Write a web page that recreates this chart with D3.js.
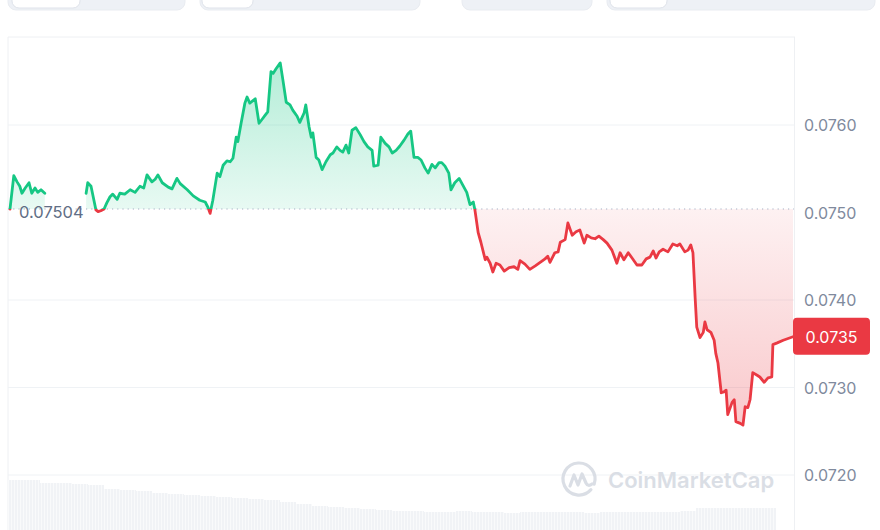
<!DOCTYPE html>
<html lang="en">
    <head>
        <meta charset="utf-8">
        <title>Price chart</title>
        <script type="text/javascript" src="https://cdn.jsdelivr.net/npm/d3@7"></script>
        <style type="text/css">
            body { margin: 0; background: #fff; }
            svg { display: block; font-family: Inter, "Noto Sans", sans-serif; }
        </style>
    </head>
    <body>
        <script type="text/javascript">

            //Width and height
            var w = 880;
            var h = 530;

            // minutes since start of the 24h window (null price = no data)
            var minutes = [0, 7, 13, 18, 22, 28, 35, 40, 46, 51, 57, 64, 100,
                140, 143, 149, 153, 158, 162, 167, 173, 178, 184, 189, 197, 202, 211, 221, 230, 239, 246,
                252, 261, 267, 272, 280, 291, 298, 307, 313, 326, 337, 349, 359, 364, 368, 373, 381, 386,
                392, 399, 405, 410, 416, 419, 425, 432, 436, 441, 451, 458, 463, 469, 474, 480, 484, 489,
                497, 502, 508, 515, 520, 528, 533, 541, 544, 550, 554, 557, 563, 568, 574, 581, 589, 594,
                601, 607, 612, 618, 623, 629, 636, 644, 651, 658, 666, 669, 677, 682, 690, 697, 703, 710,
                717, 725, 732, 737, 743, 750, 756, 763, 769, 776, 782, 789, 794, 800, 807, 811, 818, 826,
                833, 840, 846, 852, 855, 861, 866, 874, 877, 883, 888, 894, 901, 909, 918, 927, 934, 938,
                947, 956, 966, 975, 984, 989, 993, 1002, 1008, 1012, 1021, 1026, 1034, 1041, 1048, 1056,
                1061, 1069, 1076, 1083, 1091, 1098, 1107, 1116, 1122, 1129, 1137, 1144, 1153, 1162, 1170,
                1177, 1183, 1188, 1194, 1201, 1210, 1219, 1227, 1232, 1241, 1247, 1252, 1256, 1260, 1263,
                1269, 1275, 1278, 1282, 1289, 1295, 1298, 1302, 1308, 1313, 1317, 1320, 1328, 1332, 1335,
                1343, 1348, 1352, 1357, 1361, 1366, 1374, 1379, 1387, 1394, 1401, 1403, 1411, 1422, 1440];

            var prices = [0.07504, 0.07542, 0.07535, 0.07530, 0.07522, 0.07528, 0.07534, 0.07522, 0.07528, 0.07523, 0.07526, 0.07522, null,
                0.07522, 0.07534, 0.07530, 0.07518, 0.07503, 0.07501, 0.07502, 0.07504, 0.07511, 0.07518, 0.07521, 0.07515, 0.07522, 0.07521, 0.07526, 0.07523, 0.07530, 0.07528,
                0.07543, 0.07535, 0.07538, 0.07543, 0.07534, 0.07529, 0.07527, 0.07539, 0.07533, 0.07526, 0.07519, 0.07514, 0.07512, 0.07506, 0.07499, 0.07514, 0.07545, 0.07541,
                0.07554, 0.07559, 0.07558, 0.07562, 0.07586, 0.07581, 0.07602, 0.07625, 0.07632, 0.07625, 0.07630, 0.07602, 0.07606, 0.07611, 0.07615, 0.07661, 0.07659, 0.07664,
                0.07671, 0.07651, 0.07626, 0.07623, 0.07617, 0.07610, 0.07603, 0.07614, 0.07623, 0.07598, 0.07586, 0.07591, 0.07563, 0.07560, 0.07549, 0.07558, 0.07566, 0.07568,
                0.07575, 0.07571, 0.07569, 0.07577, 0.07568, 0.07594, 0.07597, 0.07589, 0.07581, 0.07575, 0.07571, 0.07553, 0.07554, 0.07586, 0.07579, 0.07575, 0.07568, 0.07571,
                0.07576, 0.07583, 0.07590, 0.07593, 0.07563, 0.07563, 0.07560, 0.07551, 0.07545, 0.07555, 0.07551, 0.07557, 0.07557, 0.07553, 0.07545, 0.07526, 0.07534, 0.07539,
                0.07531, 0.07523, 0.07509, 0.07512, 0.07503, 0.07477, 0.07466, 0.07446, 0.07449, 0.07442, 0.07432, 0.07442, 0.07440, 0.07433, 0.07437, 0.07438, 0.07435, 0.07445,
                0.07441, 0.07435, 0.07439, 0.07443, 0.07447, 0.07450, 0.07443, 0.07454, 0.07455, 0.07466, 0.07469, 0.07488, 0.07474, 0.07478, 0.07480, 0.07465,
                0.07474, 0.07471, 0.07470, 0.07473, 0.07469, 0.07465, 0.07457, 0.07442, 0.07454, 0.07446, 0.07454, 0.07448, 0.07440, 0.07440, 0.07447,
                0.07449, 0.07456, 0.07448, 0.07455, 0.07458, 0.07455, 0.07464, 0.07462, 0.07464, 0.07455, 0.07457, 0.07463, 0.07454, 0.07403, 0.07369,
                0.07357, 0.07363, 0.07375, 0.07366, 0.07363, 0.07354, 0.07339, 0.07328, 0.07294, 0.07295, 0.07297, 0.07269, 0.07283, 0.07286, 0.07261,
                0.07259, 0.07257, 0.07278, 0.07277, 0.07286, 0.07317, 0.07314, 0.07312, 0.07306, 0.07311, 0.07312, 0.07349, 0.07351, 0.07354, 0.07358];

            var openPrice = 0.07504;
            var yTicks = [0.0720, 0.0730, 0.0740, 0.0750, 0.0760];

            // volume, one bar per 30 minutes
            var volumes = [50, 50, 47, 47, 46, 45, 41, 40, 39, 37, 36, 35, 34, 33, 32, 31,
                30, 28, 26, 24, 23, 22, 21, 20, 19, 19, 18, 18, 19, 18, 18, 17,
                18, 18, 18, 18, 17, 18, 18, 18, 18, 18, 19, 22, 22, 22, 22, 22];

            var data = minutes.map(function(m, i) { return { t: m, p: prices[i] }; });

            var green = "#16c784";
            var red = "#ea3943";

            var x = d3.scaleLinear().domain([0, 1440]).range([10, 793]);
            var y = d3.scaleLinear().domain([0.0720, 0.0760]).range([475, 125]);
            var vx = d3.scaleBand().domain(d3.range(volumes.length)).range([8, 776]);
            var vy = d3.scaleLinear().domain([0, 50]).range([530, 480]);

            var svg = d3.select("body")
                        .append("svg")
                        .attr("width", w)
                        .attr("height", h);

            var defs = svg.append("defs");

            var gg = defs.append("linearGradient").attr("id", "gUp")
                .attr("gradientUnits", "userSpaceOnUse")
                .attr("x1", 0).attr("x2", 0).attr("y1", y(0.0767)).attr("y2", y(openPrice));
            gg.append("stop").attr("offset", 0).attr("stop-color", green).attr("stop-opacity", 0.32);
            gg.append("stop").attr("offset", 1).attr("stop-color", green).attr("stop-opacity", 0.1);

            var rg = defs.append("linearGradient").attr("id", "gDown")
                .attr("gradientUnits", "userSpaceOnUse")
                .attr("x1", 0).attr("x2", 0).attr("y1", y(openPrice)).attr("y2", y(0.0725));
            rg.append("stop").attr("offset", 0).attr("stop-color", red).attr("stop-opacity", 0.07);
            rg.append("stop").attr("offset", 1).attr("stop-color", red).attr("stop-opacity", 0.28);

            defs.append("clipPath").attr("id", "cUp")
                .append("rect").attr("x", 0).attr("y", 0).attr("width", w).attr("height", y(openPrice));
            defs.append("clipPath").attr("id", "cDown")
                .append("rect").attr("x", 0).attr("y", y(openPrice)).attr("width", w).attr("height", h);

            var stripes = defs.append("pattern").attr("id", "stripes")
                .attr("patternUnits", "userSpaceOnUse").attr("width", 3).attr("height", 10);
            stripes.append("rect").attr("width", 2).attr("height", 10).attr("fill", "#f1f3f6");
            stripes.append("rect").attr("x", 2).attr("width", 1).attr("height", 10).attr("fill", "#f9fafb");

            //Tabs along the top (cut off)
            var tabGroups = [[8, 185, 12, 80], [200, 420, 202, 253], [462, 592, null, null], [607, 875, 610, 667]];
            tabGroups.forEach(function(g) {
                svg.append("rect").attr("x", g[0]).attr("y", -20).attr("width", g[1] - g[0]).attr("height", 30)
                    .attr("rx", 8).attr("fill", "#eef1f6").attr("stroke", "#e9ecf1");
                if (g[2] != null) {
                    svg.append("rect").attr("x", g[2]).attr("y", -20).attr("width", g[3] - g[2]).attr("height", 28)
                        .attr("rx", 7).attr("fill", "#fff").attr("stroke", "#dfe3ea");
                }
            });

            //Frame
            svg.append("line").attr("x1", 8).attr("x2", 795).attr("y1", 37).attr("y2", 37)
                .attr("stroke", "#eef0f3");
            svg.append("line").attr("x1", 8).attr("x2", 8).attr("y1", 37).attr("y2", h)
                .attr("stroke", "#eef0f3");
            svg.append("line").attr("x1", 794.5).attr("x2", 794.5).attr("y1", 37).attr("y2", h)
                .attr("stroke", "#eef0f3");

            //Grid
            svg.selectAll(".grid")
                .data(yTicks.filter(function(d) { return d != 0.0750; }))
                .enter()
                .append("line")
                .attr("class", "grid")
                .attr("x1", 8).attr("x2", 794)
                .attr("y1", function(d) { return y(d); })
                .attr("y2", function(d) { return y(d); })
                .attr("stroke", "#eff2f5");

            //Volume
            svg.selectAll(".vol")
                .data(volumes)
                .enter()
                .append("rect")
                .attr("class", "vol")
                .attr("x", function(d, i) { return vx(i); })
                .attr("width", vx.bandwidth())
                .attr("y", function(d) { return vy(d); })
                .attr("height", function(d) { return h - vy(d); })
                .attr("fill", "url(#stripes)");

            //Watermark
            var wm = svg.append("g").attr("transform", "translate(579,479)")
                .attr("fill", "none").attr("stroke", "#dadee5").attr("stroke-width", 3.2)
                .attr("stroke-linecap", "round").attr("stroke-linejoin", "round");
            wm.append("path").attr("d", d3.arc()({ innerRadius: 16, outerRadius: 16, startAngle: 2.3, endAngle: 2 * Math.PI + 1.9 }));
            wm.append("path").attr("d", "M-9,7 L-5,-4 L-1,6 L3,-5 L7,4 Q9,8 13,5");
            svg.append("text").attr("x", 608).attr("y", 488)
                .attr("font-size", "22px").attr("font-weight", 600)
                .attr("fill", "#dadee5").text("CoinMarketCap");

            //Areas and lines
            var area = d3.area()
                .defined(function(d) { return d.p != null; })
                .x(function(d) { return x(d.t); })
                .y0(y(openPrice))
                .y1(function(d) { return y(d.p); });

            var line = d3.line()
                .defined(function(d) { return d.p != null; })
                .x(function(d) { return x(d.t); })
                .y(function(d) { return y(d.p); });

            svg.append("path").datum(data).attr("d", area)
                .attr("fill", "url(#gUp)").attr("clip-path", "url(#cUp)");
            svg.append("path").datum(data).attr("d", area)
                .attr("fill", "url(#gDown)").attr("clip-path", "url(#cDown)");

            //Open price reference
            svg.append("line").attr("x1", 8).attr("x2", 794)
                .attr("y1", y(openPrice)).attr("y2", y(openPrice))
                .attr("stroke", "#a6b0c3").attr("stroke-width", 1.2)
                .attr("stroke-dasharray", "1.2,4");

            svg.append("path").datum(data).attr("d", line)
                .attr("fill", "none").attr("stroke", green).attr("stroke-width", 2.8)
                .attr("stroke-linejoin", "round").attr("stroke-linecap", "round")
                .attr("clip-path", "url(#cUp)");
            svg.append("path").datum(data).attr("d", line)
                .attr("fill", "none").attr("stroke", red).attr("stroke-width", 2.8)
                .attr("stroke-linejoin", "round").attr("stroke-linecap", "round")
                .attr("clip-path", "url(#cDown)");

            svg.append("text").attr("x", 19).attr("y", y(openPrice) + 9)
                .attr("font-size", "16.5px").attr("fill", "#616e85")
                .text(d3.format(".5f")(openPrice));

            //Right axis labels
            svg.selectAll(".tick")
                .data(yTicks)
                .enter()
                .append("text")
                .attr("class", "tick")
                .attr("x", 804)
                .attr("y", function(d) { return y(d) + 6; })
                .attr("font-size", "16px")
                .attr("fill", "#808a9d")
                .text(function(d) { return d3.format(".4f")(d); });

            //Last price badge
            var last = prices[prices.length - 1];
            svg.append("rect").attr("x", 793).attr("y", y(last) - 19)
                .attr("width", 77).attr("height", 37).attr("rx", 4).attr("fill", red);
            svg.append("text").attr("x", 831.5).attr("y", y(last) + 6)
                .attr("text-anchor", "middle").attr("font-size", "16px").attr("fill", "#fff")
                .text((Math.floor(last * 1e4) / 1e4).toFixed(4));

        </script>
    </body>
</html>
